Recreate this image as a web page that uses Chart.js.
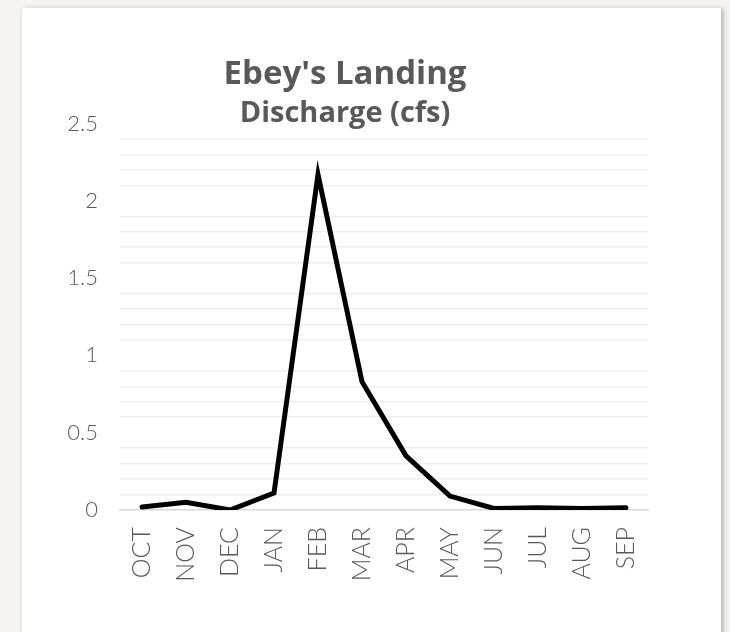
<!DOCTYPE html>
<html>
<head>
<meta charset="utf-8">
<script src="https://cdn.jsdelivr.net/npm/chart.js@4.4.1/dist/chart.umd.min.js"></script>
<style>
  html, body { margin: 0; padding: 0; width: 730px; height: 632px; background: #f4f3ef; overflow: hidden; }
  #card { position: absolute; left: 22px; top: 8px; width: 699px; height: 660px; background: #ffffff;
          box-shadow: 2px 1px 5px rgba(0,0,0,0.28); }
  #wrap { position: absolute; left: 0; top: 0; width: 730px; height: 632px; }
</style>
</head>
<body>
<div id="card"></div>
<div id="wrap"><canvas id="c" width="730" height="632"></canvas></div>
<script>
const months = ["OCT","NOV","DEC","JAN","FEB","MAR","APR","MAY","JUN","JUL","AUG","SEP"];
const discharge = [0.02, 0.05, 0.0, 0.11, 2.17, 0.83, 0.35, 0.09, 0.01, 0.015, 0.01, 0.015];
const titleText = "Ebey's Landing";
const subtitleText = "Discharge (cfs)";
const yMin = 0, yMax = 2.5, yMinorStep = 0.1, yLabelStep = 0.5;

const isLabelTick = v => Math.abs(v / yLabelStep - Math.round(v / yLabelStep)) < 1e-6;
const grey = '#595959';

new Chart(document.getElementById('c'), {
  type: 'line',
  data: {
    labels: months,
    datasets: [{
      data: discharge,
      borderColor: '#000000',
      borderWidth: 5,
      borderJoinStyle: 'miter',
      borderCapStyle: 'round',
      pointRadius: 0,
      pointHoverRadius: 0,
      tension: 0,
      fill: false
    }]
  },
  options: {
    responsive: false,
    animation: false,
    layout: { padding: { left: 42, right: 82, top: 0, bottom: 22 } },
    plugins: {
      legend: { display: false },
      tooltip: { enabled: false },
      title: {
        display: true,
        text: titleText,
        color: grey,
        font: { family: '"Open Sans", Lato, sans-serif', size: 33, weight: 'bold', lineHeight: 1.2 },
        padding: { top: 54.7, bottom: 10.2 }
      },
      subtitle: {
        display: true,
        text: subtitleText,
        color: grey,
        font: { family: '"Open Sans", Lato, sans-serif', size: 29, weight: 'bold', lineHeight: 0.655 },
        padding: { top: 0, bottom: 0 }
      }
    },
    scales: {
      x: {
        type: 'category',
        offset: true,
        grid: { display: false, drawTicks: false },
        border: { display: true, color: '#d9d9d9', width: 1.5 },
        ticks: {
          color: grey,
          font: { family: 'Lato, "Open Sans", sans-serif', size: 25, weight: '300' },
          minRotation: 90, maxRotation: 90,
          padding: 17,
          autoSkip: false
        },
        afterFit: s => { s.height = 100; }
      },
      y: {
        min: yMin, max: yMax,
        grid: {
          drawTicks: false,
          lineWidth: 1.5,
          color: ctx => (isLabelTick(ctx.tick.value) ? 'rgba(0,0,0,0)' : '#eeeeee')
        },
        border: { display: false },
        ticks: {
          stepSize: yMinorStep,
          autoSkip: false,
          color: grey,
          padding: 22,
          font: { family: 'Lato, "Open Sans", sans-serif', size: 22, weight: '300' },
          callback: v => (isLabelTick(v) ? String(Math.round(v * 10) / 10) : '')
        },
        afterFit: s => { s.width = 78; }
      }
    }
  }
});
</script>
</body>
</html>
